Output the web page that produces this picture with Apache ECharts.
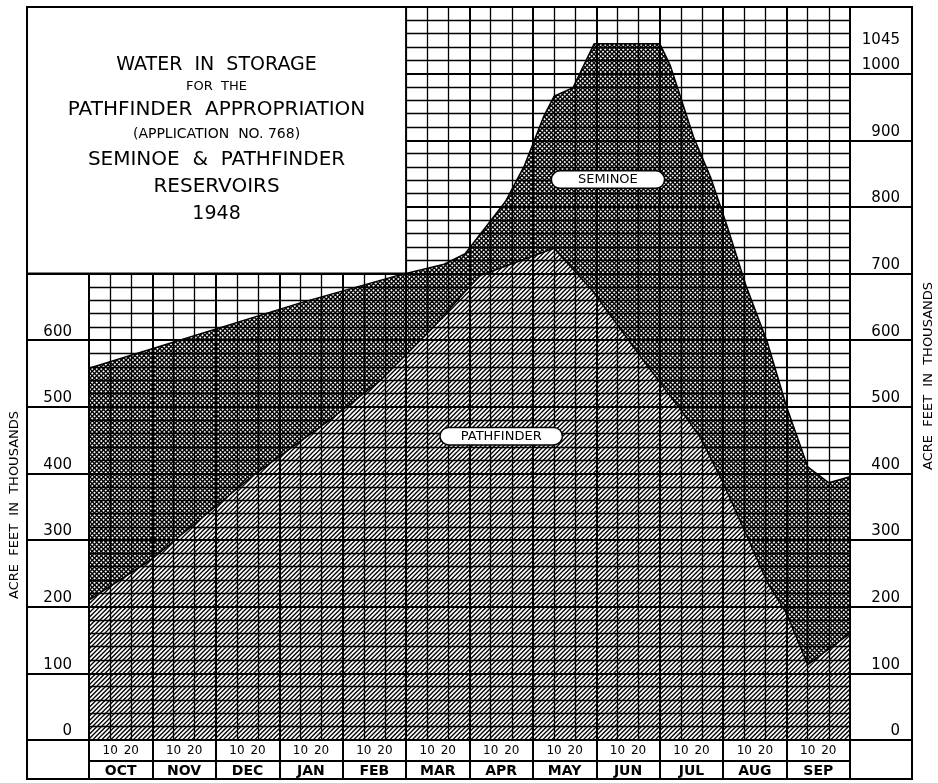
<!DOCTYPE html>
<html><head><meta charset="utf-8">
<script src="https://cdn.jsdelivr.net/npm/echarts@6/dist/echarts.min.js"></script>
<style>html,body{margin:0;padding:0;background:#fff}#c{width:938px;height:783px}</style>
</head><body><div id="c"></div>
<script>
// x unit: ten-day periods counted from Oct 1 (0) to Sep 30 (36)
const months = ['OCT','NOV','DEC','JAN','FEB','MAR','APR','MAY','JUN','JUL','AUG','SEP'];
const dayTicks = ['10','20'];
const leftTickValues = [0,100,200,300,400,500,600,700];
const leftLabelValues = [0,100,200,300,400,500,600];
const rightTickValues = [0,100,200,300,400,500,600,700,800,900,1000];
const rightLabelValues = [0,100,200,300,400,500,600,700,800,900,1000,1045];

// Seminoe (upper line, total storage)
const seminoeX = [0,10,14.7,16.8,17.8,18.9,19.7,20.6,21.5,22.0,22.9,23.9,27.0,27.5,28.6,29.4,30.2,31.1,32.1,33.0,34.0,35.0,36];
const seminoeY = [558,656,698,714,730,775,808,862,935,966,979,1045,1045,1012,905,845,770,680,596,500,410,386,395];
// Pathfinder (lower line)
const pathfinderX = [0,3,7.8,11.3,13.8,16.3,18,18.5,22,23.8,26.1,28,28.9,30,32.1,33,34,36];
const pathfinderY = [210,272,398,478,540,620,680,697,738,675,575,495,455,386,236,190,113,160];

const titleLines = ['WATER  IN  STORAGE','FOR  THE','PATHFINDER  APPROPRIATION','(APPLICATION  NO. 768)','SEMINOE  &  PATHFINDER','RESERVOIRS','1948'];
const seriesLabels = ['SEMINOE','PATHFINDER'];
const axisTitle = 'ACRE  FEET  IN  THOUSANDS';

const monthBounds = months.map((m,i)=>i*3).concat([36]);
const dayTickValues = [];
months.forEach((m,i)=>{dayTickValues.push(i*3+1, i*3+2);});
const monthCenters = months.map((m,i)=>i*3+1.5);

function makePattern(dirs, spacing, width, bg){
  const T = spacing*4;
  const c = document.createElement('canvas'); c.width=T; c.height=T;
  const ctx = c.getContext('2d');
  if(bg){ctx.fillStyle=bg;ctx.fillRect(0,0,T,T);}
  ctx.strokeStyle='#000'; ctx.lineWidth=width;
  dirs.forEach(d=>{
    for(let k=-Math.ceil(2*T/spacing); k<=Math.ceil(2*T/spacing)+4; k++){
      const cc=k*spacing;
      ctx.beginPath();
      if(d==='/'){ctx.moveTo(cc+10,-10);ctx.lineTo(cc-T-10,T+10);}
      else{ctx.moveTo(cc-10,-10);ctx.lineTo(cc+T+10,T+10);}
      ctx.stroke();
    }
  });
  return c;
}
const crossPat = makePattern(['/','\\'],4.5,1.45,'#fff');
const hatchPat = makePattern(['/'],4.5,1.35,'#fff');

const zip=(xs,ys)=>xs.map((x,i)=>[x,ys[i]]);
const FONT='DejaVu Sans';
const black={color:'#000',width:2};
const rightFmt = v => v===1045 ? '{t|'+v+'}' : String(v);

const chart = echarts.init(document.getElementById('c'),null,{renderer:'canvas'});
const option = {
  animation:false,
  backgroundColor:'#fff',
  grid:{left:89,top:7,width:761,height:733,show:false},
  xAxis:[{
    type:'value',min:0,max:36,interval:3,position:'bottom',z:3,
    axisLine:{show:true,onZero:false,lineStyle:black},
    axisTick:{show:true,customValues:monthBounds,length:39,lineStyle:black},
    axisLabel:{show:true,customValues:dayTickValues,formatter:v=>dayTicks[(Math.round(v)%3)-1],
      fontSize:12,margin:5,color:'#000',fontFamily:FONT},
    splitLine:{show:true,lineStyle:black},
    minorTick:{show:false,splitNumber:3},
    minorSplitLine:{show:true,lineStyle:{color:'#000',width:1.3}}
  },{
    type:'value',min:0,max:36,position:'bottom',offset:21,z:3,
    axisLine:{show:true,onZero:false,lineStyle:black},
    axisTick:{show:false},splitLine:{show:false},
    axisLabel:{show:true,customValues:monthCenters,formatter:v=>months[Math.floor(v/3)],
      fontSize:14,fontWeight:'bold',margin:3,color:'#000',fontFamily:FONT}
  }],
  yAxis:[{
    type:'value',min:0,max:1100,interval:100,position:'left',z:3,
    axisLine:{show:false},axisTick:{show:false},axisLabel:{show:false},
    splitLine:{show:true,lineStyle:black},
    minorTick:{show:false,splitNumber:5},
    minorSplitLine:{show:true,lineStyle:{color:'#000',width:1.3}}
  },{
    type:'value',min:0,max:1100,position:'left',z:3,
    axisLine:{show:true,onZero:false,lineStyle:black},
    axisTick:{show:true,customValues:leftTickValues,length:62,lineStyle:black},
    axisLabel:{show:true,customValues:leftLabelValues,formatter:v=>String(v),margin:17,verticalAlign:'bottom',
      fontSize:15,color:'#000',fontFamily:FONT,padding:[0,0,1,0]},
    splitLine:{show:false}
  },{
    type:'value',min:0,max:1100,position:'right',z:3,
    axisLine:{show:true,onZero:false,lineStyle:black},
    axisTick:{show:true,customValues:rightTickValues,length:62,lineStyle:black},
    axisLabel:{show:true,customValues:rightLabelValues,formatter:rightFmt,margin:50,align:'right',verticalAlign:'bottom',
      fontSize:15,color:'#000',fontFamily:FONT,padding:[0,0,1,0],
      rich:{t:{fontSize:15,fontFamily:FONT,color:'#000',lineHeight:6}}},
    splitLine:{show:false}
  }],
  series:[{
    name:'Seminoe',type:'line',xAxisIndex:0,yAxisIndex:0,z:1,
    data:zip(seminoeX,seminoeY),showSymbol:false,symbol:'none',smooth:false,silent:true,
    lineStyle:{color:'#000',width:1.5},
    areaStyle:{color:{image:crossPat,repeat:'repeat'},opacity:1,origin:'start'}
  },{
    name:'Pathfinder',type:'line',xAxisIndex:0,yAxisIndex:0,z:2,
    data:zip(pathfinderX,pathfinderY),showSymbol:false,symbol:'none',smooth:false,silent:true,
    lineStyle:{color:'#000',width:1.5},
    areaStyle:{color:{image:hatchPat,repeat:'repeat'},opacity:1,origin:'start'}
  },{
    type:'scatter',xAxisIndex:0,yAxisIndex:0,z:10,silent:true,symbolSize:0,
    itemStyle:{opacity:1},
    data:[{value:[24.55,841],name:seriesLabels[0],label:{padding:[2,26,1,26]}},
          {value:[19.5,456],name:seriesLabels[1],label:{padding:[2,20,1,20]}}],
    label:{show:true,position:'inside',formatter:p=>p.name,fontSize:13,color:'#000',fontFamily:FONT,opacity:1,
      backgroundColor:'#fff',borderColor:'#000',borderWidth:1.5,borderRadius:8}
  }]
};
chart.setOption(option);

const px15 = chart.convertToPixel({xAxisIndex:0},15);
const py700 = chart.convertToPixel({yAxisIndex:0},700);
const cx = (27+px15)/2;
const titleYs=[65,87,110,134,160,187,214];
const titleSizes=[19,13,20,14,20,20,19];
const graphics=[
  {type:'rect',z:15,shape:{x:27,y:7,width:px15-27,height:py700-7},style:{fill:'#fff',stroke:'#000',lineWidth:2}},
  {type:'rect',z:20,shape:{x:27,y:7,width:885,height:772},style:{fill:'none',stroke:'#000',lineWidth:2}},
  {type:'text',z:16,x:15,y:505,rotation:Math.PI/2,style:{text:axisTitle,font:'13px "DejaVu Sans"',fill:'#000',textAlign:'center',textVerticalAlign:'middle'}},
  {type:'text',z:16,x:929,y:376,rotation:Math.PI/2,style:{text:axisTitle,font:'13px "DejaVu Sans"',fill:'#000',textAlign:'center',textVerticalAlign:'middle'}}
];
titleLines.forEach((t,i)=>{
  graphics.push({type:'text',z:16,x:cx,y:titleYs[i],style:{text:t,font:titleSizes[i]+'px "DejaVu Sans"',fill:'#000',textAlign:'center',textVerticalAlign:'middle'}});
});
chart.setOption({graphic:graphics});
</script></body></html>
